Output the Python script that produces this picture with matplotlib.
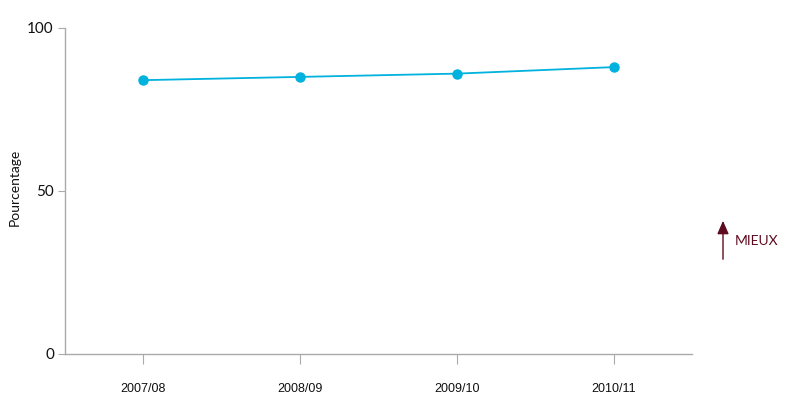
import matplotlib
matplotlib.use("Agg")
import matplotlib.pyplot as plt

categories = ["2007/08", "2008/09", "2009/10", "2010/11"]
values = [84, 85, 86, 88]
yticks = [0, 50, 100]

line_color = "#00B2DD"
spine_color = "#AAAAAA"
maroon = "#5E0B1F"

plt.rcParams['font.family'] = ['Lato', 'DejaVu Sans']

fig = plt.figure(figsize=(8, 4.11), dpi=100)
ax = fig.add_axes([0.08125, 0.1387, 0.78375, 0.7932])

x = list(range(len(categories)))
ax.plot(x, values, color=line_color, lw=1.3, marker='o', ms=6.5, zorder=3)

ax.set_xlim(-0.5, 3.5)
ax.set_ylim(0, 100)
ax.set_xticks(x)
ax.set_xticklabels(categories, fontsize=9, family=['Liberation Sans'])
ax.set_yticks(yticks)
ax.set_yticklabels([str(v) for v in yticks], fontsize=11)
ax.tick_params(axis='x', length=7, width=0.8, color=spine_color, pad=14, colors='#111111')
ax.tick_params(axis='y', length=5, width=0.8, color=spine_color, pad=3, colors='#111111')
ax.tick_params(axis='x', color=spine_color)
ax.tick_params(axis='y', color=spine_color)
for s in ['top', 'right']:
    ax.spines[s].set_visible(False)
for s in ['left', 'bottom']:
    ax.spines[s].set_color(spine_color)
    ax.spines[s].set_linewidth(1.0)

ax.set_ylabel("Pourcentage", fontsize=10, color='#111111')
ax.yaxis.set_label_coords(-0.07, 0.51)

ax.annotate("", xy=(723, 193), xytext=(723, 149), xycoords='figure pixels',
            textcoords='figure pixels',
            arrowprops=dict(arrowstyle='-|>,head_width=0.35,head_length=0.8',
                            color=maroon, lw=1.0))
fig.text(735, 170, "MIEUX", transform=None, fontsize=10, color=maroon,
         va='center', ha='left')

fig.savefig("out.png", dpi=100)
